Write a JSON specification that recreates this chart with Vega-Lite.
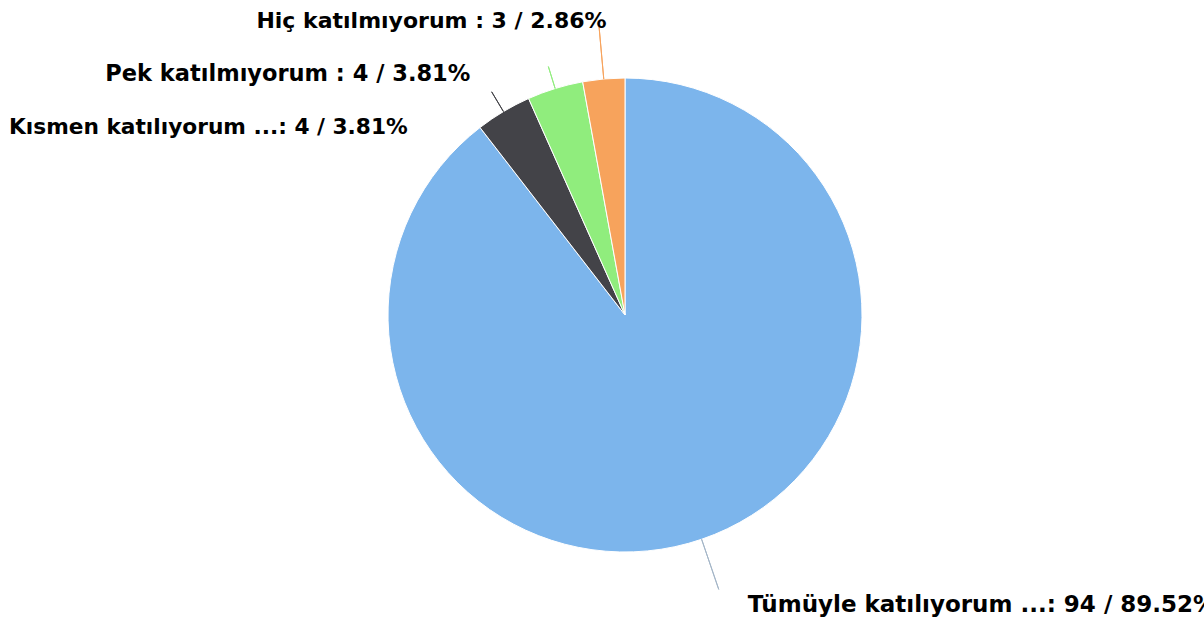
{
  "$schema": "https://vega.github.io/schema/vega-lite/v6.json",
  "width": 1158,
  "height": 604,
  "autosize": {"type": "none"},
  "padding": {"left": 46, "top": 13, "right": 0, "bottom": 0},
  "background": "white",
  "config": {"view": {"stroke": null}},
  "data": {
    "values": [
      {"answer": "Tümüyle katılıyorum ...", "count": 94, "rank": 1, "label": "Tümüyle katılıyorum ...: 94 / 89.52%"},
      {"answer": "Kısmen katılıyorum ...", "count": 4, "rank": 2, "label": "Kısmen katılıyorum ...: 4 / 3.81%"},
      {"answer": "Pek katılmıyorum", "count": 4, "rank": 3, "label": "Pek katılmıyorum : 4 / 3.81%"},
      {"answer": "Hiç katılmıyorum", "count": 3, "rank": 4, "label": "Hiç katılmıyorum : 3 / 2.86%"}
    ]
  },
  "resolve": {"scale": {"theta": "independent"}},
  "encoding": {
    "theta": {"field": "count", "type": "quantitative", "stack": true, "scale": {"domain": [0, 105]}},
    "order": {"field": "rank", "type": "quantitative"},
    "color": {
      "field": "answer",
      "type": "nominal",
      "legend": null,
      "scale": {
        "domain": ["Tümüyle katılıyorum ...", "Kısmen katılıyorum ...", "Pek katılmıyorum", "Hiç katılmıyorum"],
        "range": ["#7cb5ec", "#434348", "#90ed7d", "#f7a35c"]
      }
    }
  },
  "layer": [
    {
      "mark": {"type": "arc", "radius": 237, "stroke": "#ffffff", "strokeWidth": 1}
    },
    {
      "mark": {"type": "arc", "radius": 290, "radius2": 237, "padAngle": 3, "filled": false, "strokeWidth": 1},
      "encoding": {
        "strokeOpacity": {"condition": {"test": "datum.rank === 4", "value": 1}, "value": 0}
      }
    },
    {
      "mark": {"type": "arc", "radius": 260, "radius2": 237, "padAngle": 3, "filled": false, "strokeWidth": 1},
      "encoding": {
        "strokeOpacity": {"condition": {"test": "datum.rank === 2 || datum.rank === 3", "value": 1}, "value": 0}
      }
    },
    {
      "mark": {"type": "arc", "radius": 290, "radius2": 237, "padAngle": 3, "filled": false, "strokeWidth": 1, "stroke": "#a3b5c7"},
      "encoding": {
        "theta": {"field": "count", "type": "quantitative", "stack": true, "scale": {"domain": [0, 105], "range": [2.3124, 3.4294]}},
        "color": {"value": "#a3b5c7"},
        "strokeOpacity": {"condition": {"test": "datum.rank === 1", "value": 1}, "value": 0}
      }
    },
    {
      "mark": {"type": "text", "radius": 250, "align": "right", "baseline": "alphabetic", "font": "DejaVu Sans", "fontWeight": "bold", "fontSize": 22, "dx": 4, "dy": -38, "fill": "#000000"},
      "encoding": {
        "text": {"condition": {"test": "datum.rank === 4", "field": "label"}, "value": ""},
        "color": {"value": "#000000"}
      }
    },
    {
      "mark": {"type": "text", "radius": 250, "align": "right", "baseline": "alphabetic", "font": "DejaVu Sans", "fontWeight": "bold", "fontSize": 22.5, "dx": -81, "dy": 5, "fill": "#000000"},
      "encoding": {
        "text": {"condition": {"test": "datum.rank === 3", "field": "label"}, "value": ""},
        "color": {"value": "#000000"}
      }
    },
    {
      "mark": {"type": "text", "radius": 250, "align": "right", "baseline": "alphabetic", "font": "DejaVu Sans", "fontWeight": "bold", "fontSize": 21.7, "dx": -89, "dy": 34, "fill": "#000000"},
      "encoding": {
        "text": {"condition": {"test": "datum.rank === 2", "field": "label"}, "value": ""},
        "color": {"value": "#000000"}
      }
    },
    {
      "mark": {"type": "text", "radius": 250, "align": "left", "baseline": "alphabetic", "font": "DejaVu Sans", "fontWeight": "bold", "fontSize": 23, "dx": 42, "dy": 60, "fill": "#000000"},
      "encoding": {
        "text": {"condition": {"test": "datum.rank === 1", "field": "label"}, "value": ""},
        "color": {"value": "#000000"}
      }
    }
  ]
}
